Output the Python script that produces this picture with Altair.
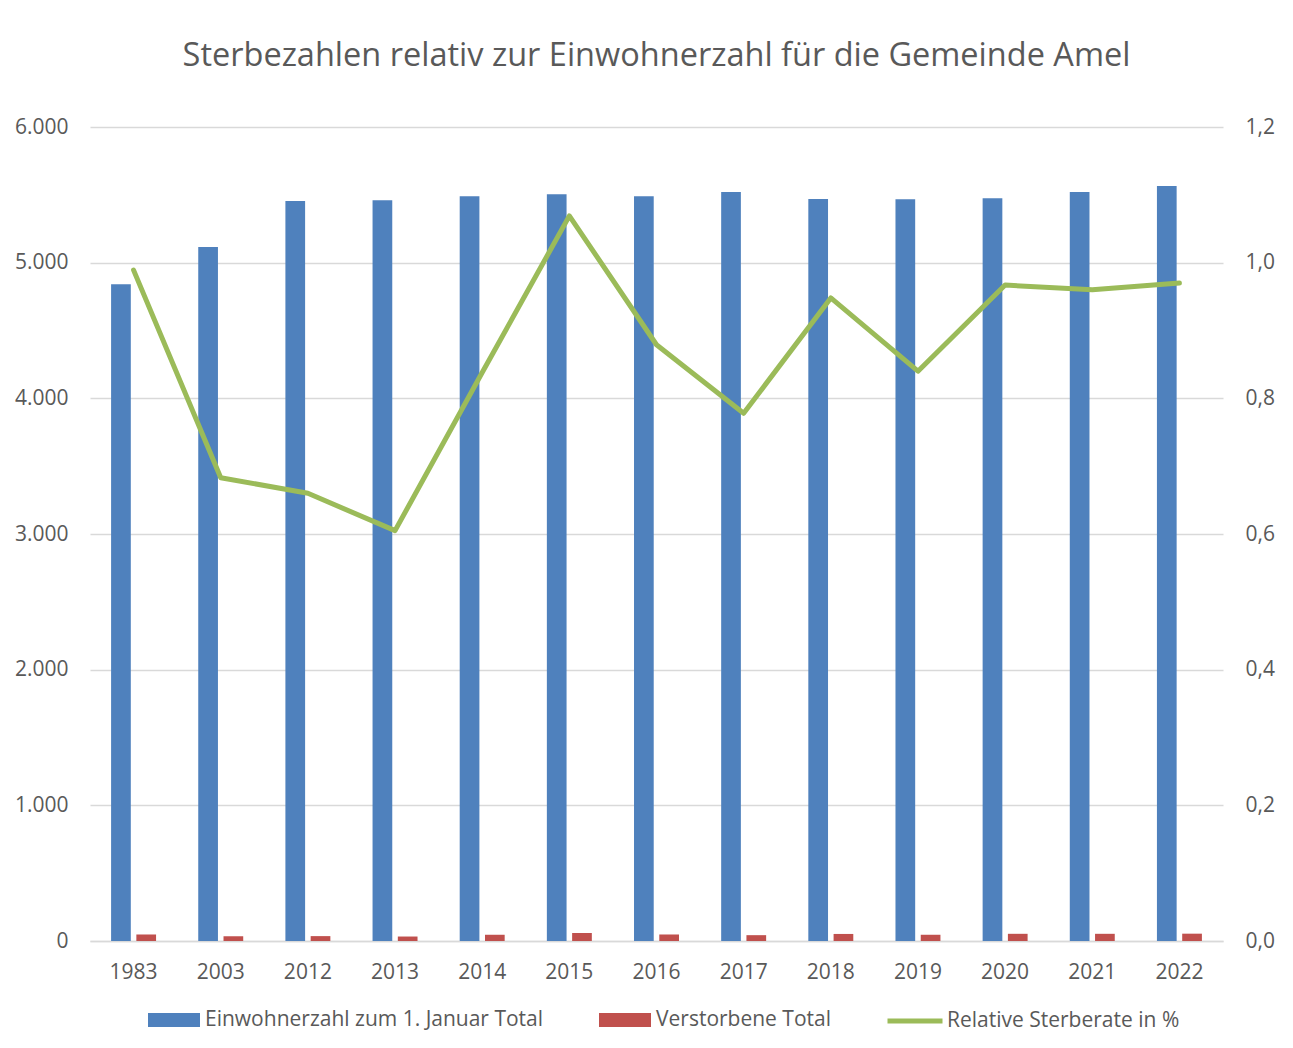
import altair as alt
import pandas as pd

# ---- data ----
years = ["1983", "2003", "2012", "2013", "2014", "2015", "2016",
         "2017", "2018", "2019", "2020", "2021", "2022"]
population = [4840, 5115, 5455, 5460, 5490, 5505, 5490, 5520, 5470, 5468, 5475, 5520, 5565]
deaths = [48, 35, 36, 33, 46, 59, 48, 43, 52, 46, 53, 53, 54]
rate = [0.989, 0.683, 0.660, 0.605, 0.838, 1.069, 0.879, 0.778, 0.948, 0.840, 0.967, 0.960, 0.970]

s_pop = "Einwohnerzahl zum 1. Januar Total"
s_dead = "Verstorbene Total"
s_rate = "Relative Sterberate in %"

title_text = "Sterbezahlen relativ zur Einwohnerzahl für die Gemeinde Amel"
left_ticks = [0, 1000, 2000, 3000, 4000, 5000, 6000]
right_ticks = [0, 0.2, 0.4, 0.6, 0.8, 1.0, 1.2]

BLUE = "#4F81BD"
RED = "#C0504D"
GREEN = "#9BBB59"
TXT = "#595959"
GRID = "#D9D9D9"
FONT = "Open Sans"

bars_df = pd.DataFrame({
    "Jahr": years * 2,
    "Serie": [s_pop] * len(years) + [s_dead] * len(years),
    "Wert": population + deaths,
})
line_df = pd.DataFrame({"Jahr": years, "Serie": [s_rate] * len(years), "Rate": rate})

x_enc = alt.X(
    "Jahr:N", sort=years,
    scale=alt.Scale(paddingInner=0.484, paddingOuter=0.242),
    axis=alt.Axis(title=None, labelAngle=0, ticks=False, domain=True,
                  domainColor=GRID, domainWidth=1.5, grid=False,
                  labelPadding=20, labelFontSize=21, labelColor=TXT, labelFont=FONT),
)

rect_path = "M-1,-0.27L1,-0.27L1,0.27L-1,0.27Z"

bars = alt.Chart(bars_df).mark_bar().encode(
    x=x_enc,
    xOffset=alt.XOffset("Serie:N", sort=[s_pop, s_dead], scale=alt.Scale(paddingInner=0.22)),
    y=alt.Y("Wert:Q", scale=alt.Scale(domain=[0, 6000]),
            axis=alt.Axis(title=None, values=left_ticks, grid=True, gridColor=GRID,
                          gridWidth=1.5, domain=False, ticks=False, labelPadding=22,
                          labelFontSize=21, labelColor=TXT, labelFont=FONT,
                          labelExpr="replace(format(datum.value, ',.0f'), ',', '.')")),
    fill=alt.Fill("Serie:N", scale=alt.Scale(domain=[s_pop, s_dead], range=[BLUE, RED]),
                  legend=alt.Legend(title=None, orient="none", legendX=58, legendY=867,
                                    direction="horizontal", symbolType=rect_path,
                                    symbolSize=2704, symbolStrokeWidth=0,
                                    labelFontSize=21, labelColor=TXT, labelFont=FONT,
                                    labelLimit=800, labelOffset=5, columnPadding=55,
                                    padding=0)),
)

line = alt.Chart(line_df).mark_line(strokeWidth=5, strokeCap="round", strokeJoin="round").encode(
    x=x_enc,
    y=alt.Y("Rate:Q", scale=alt.Scale(domain=[0, 1.2]),
            axis=alt.Axis(title=None, orient="right", values=right_ticks, grid=False,
                          domain=False, ticks=False, labelPadding=22,
                          labelFontSize=21, labelColor=TXT, labelFont=FONT,
                          labelExpr="replace(format(datum.value, '.1f'), '.', ',')")),
    stroke=alt.Stroke("Serie:N", scale=alt.Scale(domain=[s_rate], range=[GREEN]),
                      legend=alt.Legend(title=None, orient="none", legendX=795, legendY=864,
                                        direction="horizontal", symbolType="stroke",
                                        symbolSize=3025, symbolStrokeWidth=5,
                                        labelFontSize=21, labelColor=TXT, labelFont=FONT,
                                        labelLimit=800, labelOffset=2, padding=0)),
)

chart = alt.layer(bars, line).resolve_scale(
    y="independent", fill="independent", stroke="independent"
).properties(
    width=1133, height=814,
    title=alt.Title(title_text, fontSize=32.5, color=TXT, font=FONT, fontWeight="normal",
                    anchor="middle", offset=44),
    autosize=alt.AutoSizeParams(type="none"),
    padding={"left": 82, "top": 119, "right": 62, "bottom": 99},
).configure_view(stroke=None)

chart.save("out.html", embed_options={"renderer": "svg", "actions": False})
